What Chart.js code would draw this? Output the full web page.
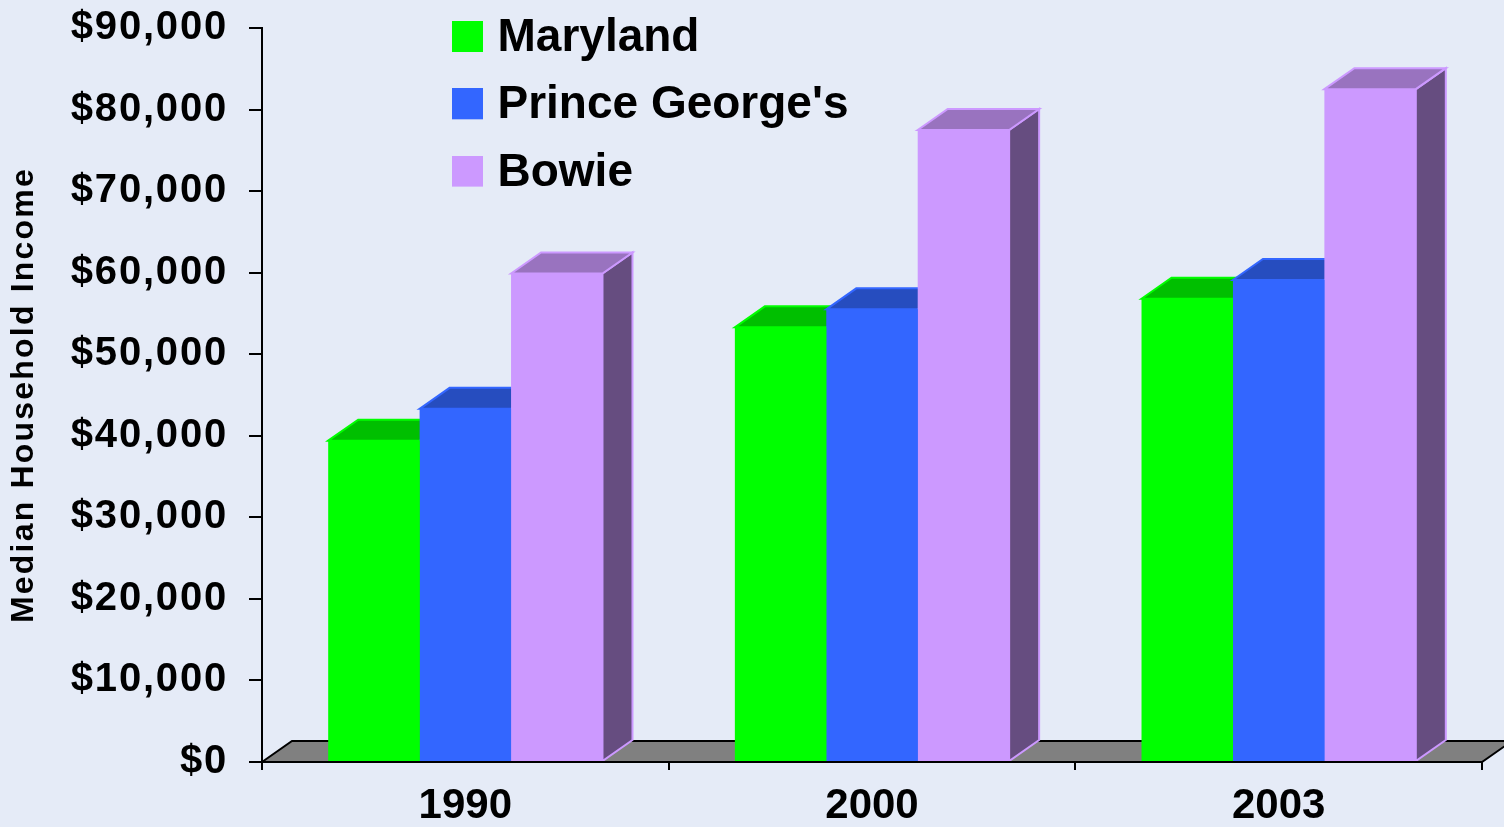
<!DOCTYPE html>
<html><head><meta charset="utf-8">
<script src="https://cdn.jsdelivr.net/npm/chart.js@4.4.1/dist/chart.umd.min.js"></script>
<style>html,body{margin:0;padding:0;background:#E5EBF7;overflow:hidden}</style>
</head><body>
<canvas id="c" width="1504" height="827"></canvas>
<script>
const categories = ['1990', '2000', '2003'];
const seriesNames = ['Maryland', "Prince George's", 'Bowie'];
const maryland = [39400, 53300, 56800];
const princeGeorges = [43300, 55500, 59100];
const bowie = [59900, 77500, 82500];
const yAxisTitle = 'Median Household Income';
const frontColors = ['#00FF00', '#3366FF', '#CC99FF'];

const FONT = '"Liberation Sans", Arial, sans-serif';
const DX = 30, DY = -21;

function shade(hex, f) {
  const n = parseInt(hex.slice(1), 16);
  const r = Math.round(((n >> 16) & 255) * f), g = Math.round(((n >> 8) & 255) * f), b = Math.round((n & 255) * f);
  return `rgb(${r},${g},${b})`;
}
function swatch(color) {
  const c = document.createElement('canvas');
  c.width = 31; c.height = 35;
  const x = c.getContext('2d');
  x.fillStyle = color; x.fillRect(0, 0, 31, 31);
  return c;
}
const swatches = frontColors.map(swatch);

const threeD = {
  id: 'threeD',
  beforeDatasetsDraw(chart) {
    const ctx = chart.ctx, a = chart.chartArea;
    ctx.save();
    ctx.beginPath();
    ctx.moveTo(a.left, a.bottom);
    ctx.lineTo(a.left + DX, a.bottom + DY);
    ctx.lineTo(a.right + DX, a.bottom + DY);
    ctx.lineTo(a.right, a.bottom);
    ctx.closePath();
    ctx.fillStyle = '#808080';
    ctx.fill();
    ctx.lineWidth = 2; ctx.strokeStyle = '#000'; ctx.lineJoin = 'miter';
    ctx.stroke();
    chart.data.datasets.forEach((ds, di) => {
      const meta = chart.getDatasetMeta(di);
      const col = frontColors[di];
      meta.data.forEach(el => {
        const p = el.getProps(['x', 'y', 'base', 'width'], true);
        const l = p.x - p.width / 2, r = p.x + p.width / 2, t = p.y, b = p.base;
        ctx.lineWidth = 2; ctx.strokeStyle = col;
        ctx.beginPath();
        ctx.moveTo(r, t); ctx.lineTo(r + DX, t + DY); ctx.lineTo(r + DX, b + DY); ctx.lineTo(r, b); ctx.closePath();
        ctx.fillStyle = shade(col, 0.5); ctx.fill(); ctx.stroke();
        ctx.beginPath();
        ctx.moveTo(l, t); ctx.lineTo(l + DX, t + DY); ctx.lineTo(r + DX, t + DY); ctx.lineTo(r, t); ctx.closePath();
        ctx.fillStyle = shade(col, 0.75); ctx.fill(); ctx.stroke();
      });
    });
    ctx.restore();
  },
  afterDatasetsDraw(chart) {
    const ctx = chart.ctx, a = chart.chartArea;
    ctx.save();
    ctx.strokeStyle = '#000'; ctx.lineWidth = 2;
    ctx.beginPath(); ctx.moveTo(a.left, a.bottom); ctx.lineTo(a.right, a.bottom); ctx.stroke();
    ctx.restore();
  },
  afterLayout(chart) {
    const lg = chart.legend;
    if (lg) { lg.left = 439.2; lg.top = -5.8; lg.right = 1504; lg.bottom = 827; lg.width = 1065; lg.height = 833; }
    const y = chart.scales.y;
    if (y && !y._patched) {
      y._patched = true;
      const dl = y.drawLabels.bind(y), dt = y.drawTitle.bind(y);
      y.drawLabels = function (ca) { const c = this.ctx; c.save(); c.letterSpacing = '1.8px'; dl(ca); c.restore(); c.letterSpacing = '0px'; };
      y.drawTitle = function (ca) { const c = this.ctx; c.save(); c.letterSpacing = '2.2px'; dt(ca); c.restore(); c.letterSpacing = '0px'; };
    }
  }
};

new Chart(document.getElementById('c'), {
  type: 'bar',
  data: {
    labels: categories,
    datasets: [
      { label: seriesNames[0], data: maryland, backgroundColor: frontColors[0] },
      { label: seriesNames[1], data: princeGeorges, backgroundColor: frontColors[1] },
      { label: seriesNames[2], data: bowie, backgroundColor: frontColors[2] }
    ]
  },
  options: {
    responsive: false,
    animation: false,
    layout: { padding: { top: 28, left: 0, right: 22, bottom: 0 } },
    datasets: { bar: { categoryPercentage: 0.6745, barPercentage: 1, borderWidth: 0, clip: false } },
    plugins: {
      tooltip: { enabled: false },
      legend: {
        position: 'chartArea',
        align: 'start',
        labels: {
          font: { family: FONT, size: 46, weight: 'bold' },
          color: '#000',
          usePointStyle: true,
          pointStyleWidth: 14,
          boxHeight: 31,
          padding: 21.3,
          generateLabels(chart) {
            const items = Chart.defaults.plugins.legend.labels.generateLabels(chart);
            items.forEach(it => { it.pointStyle = swatches[it.datasetIndex]; });
            return items;
          }
        }
      }
    },
    scales: {
      x: {
        grid: { display: true, drawOnChartArea: false, offset: true, tickLength: 8, color: '#000', lineWidth: 2 },
        border: { display: true, color: '#000', width: 2 },
        ticks: { font: { family: FONT, size: 42, weight: 'bold' }, color: '#000', padding: 11, maxRotation: 0 },
        afterFit(s) { s.height = 65; s.paddingLeft = 0; s.paddingRight = 0; }
      },
      y: {
        min: 0, max: 90000,
        ticks: {
          stepSize: 10000,
          font: { family: FONT, size: 40, weight: 'bold' },
          color: '#000',
          padding: 21,
          callback: v => '$' + Number(v).toLocaleString('en-US')
        },
        grid: { display: true, drawOnChartArea: false, tickLength: 13, color: '#000', lineWidth: 2 },
        border: { display: true, color: '#000', width: 2 },
        title: { display: true, text: yAxisTitle, font: { family: FONT, size: 32, weight: 'bold' }, color: '#000', padding: { top: 5, bottom: 0 } },
        afterFit(s) { s.width = 262; s.paddingTop = 0; s.paddingBottom = 0; }
      }
    }
  },
  plugins: [threeD]
});
</script>
</body></html>
